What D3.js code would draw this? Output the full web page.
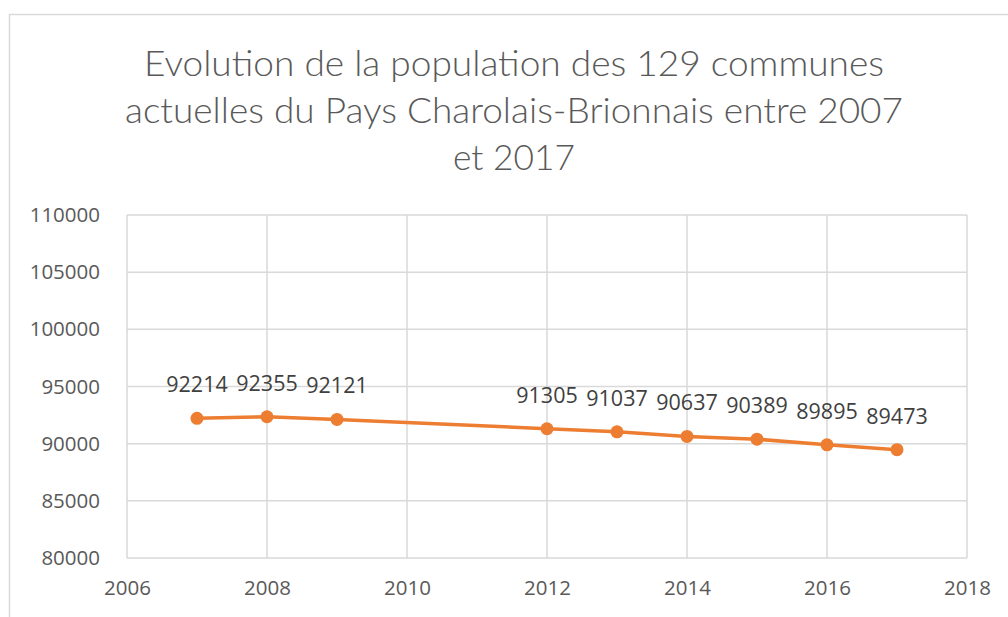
<!DOCTYPE html>
<html><head><meta charset="utf-8">
<script src="https://cdn.jsdelivr.net/npm/d3@7"></script>
<style>body{margin:0;background:#fff}svg{display:block}</style>
</head><body>
<svg id="c" width="1008" height="617"></svg>
<script>
const titleLines = ["Evolution de la population des 129 communes","actuelles  du Pays Charolais-Brionnais entre 2007","et 2017"];
const years = [2007, 2008, 2009, 2012, 2013, 2014, 2015, 2016, 2017];
const population = [92214, 92355, 92121, 91305, 91037, 90637, 90389, 89895, 89473];
const xTicks = [2006, 2008, 2010, 2012, 2014, 2016, 2018];
const yTicks = [80000, 85000, 90000, 95000, 100000, 105000, 110000];

const svg = d3.select("#c");
const m = {left:127, right:967, top:215, bottom:558};

svg.append("rect").attr("x",9.5).attr("y",14.5).attr("width",1010).attr("height",620)
  .attr("fill","#fff").attr("stroke","#d9d9d9").attr("stroke-width",1.5);

const x = d3.scaleLinear().domain([2006, 2018]).range([m.left, m.right]);
const y = d3.scaleLinear().domain([80000, 110000]).range([m.bottom, m.top]);

// title
const tw = [740, 778, 122];
const tb = [76, 123, 170];
titleLines.forEach((t,i)=>{
  svg.append("text").attr("x",514).attr("y",tb[i]).attr("text-anchor","middle")
    .attr("font-family","Lato, 'Open Sans', sans-serif").attr("font-weight",300).attr("font-size",35)
    .attr("fill","#595959").attr("textLength",tw[i]).attr("lengthAdjust","spacingAndGlyphs").text(t);
});

// gridlines
const grid = svg.append("g").attr("stroke","#d9d9d9").attr("stroke-width",1.5);
grid.selectAll(".h").data(yTicks).join("line")
  .attr("x1",m.left).attr("x2",m.right).attr("y1",d=>y(d)).attr("y2",d=>y(d));
grid.selectAll(".v").data(xTicks).join("line")
  .attr("y1",m.top).attr("y2",m.bottom).attr("x1",d=>x(d)).attr("x2",d=>x(d));

// axes
const yAxis = d3.axisLeft(y).tickValues(yTicks).tickSize(0).tickPadding(27).tickFormat(d3.format("d"));
const gy = svg.append("g").attr("transform",`translate(${m.left},0)`).call(yAxis);
gy.select(".domain").remove();
gy.selectAll("text").attr("font-family","'Open Sans', sans-serif").attr("font-size",20.5).attr("fill","#595959");

const xAxis = d3.axisBottom(x).tickValues(xTicks).tickSize(0).tickPadding(22).tickFormat(d3.format("d"));
const gx = svg.append("g").attr("transform",`translate(0,${m.bottom})`).call(xAxis);
gx.select(".domain").remove();
gx.selectAll("text").attr("font-family","'Open Sans', sans-serif").attr("font-size",20.5).attr("fill","#595959");

// line
const data = years.map((yr,i)=>({yr, v:population[i]}));
svg.append("path").datum(data)
  .attr("fill","none").attr("stroke","#ed7d31").attr("stroke-width",3.5)
  .attr("d", d3.line().x(d=>x(d.yr)).y(d=>y(d.v)));
svg.selectAll(".pt").data(data).join("circle")
  .attr("cx",d=>x(d.yr)).attr("cy",d=>y(d.v)).attr("r",6.5).attr("fill","#ed7d31");

svg.selectAll(".lbl").data(data).join("text")
  .attr("x",d=>x(d.yr)).attr("y",d=>y(d.v)-26).attr("text-anchor","middle")
  .attr("font-family","'Open Sans', sans-serif").attr("font-size",21.5).attr("fill","#404040")
  .text(d=>d.v);
</script>
</body></html>
